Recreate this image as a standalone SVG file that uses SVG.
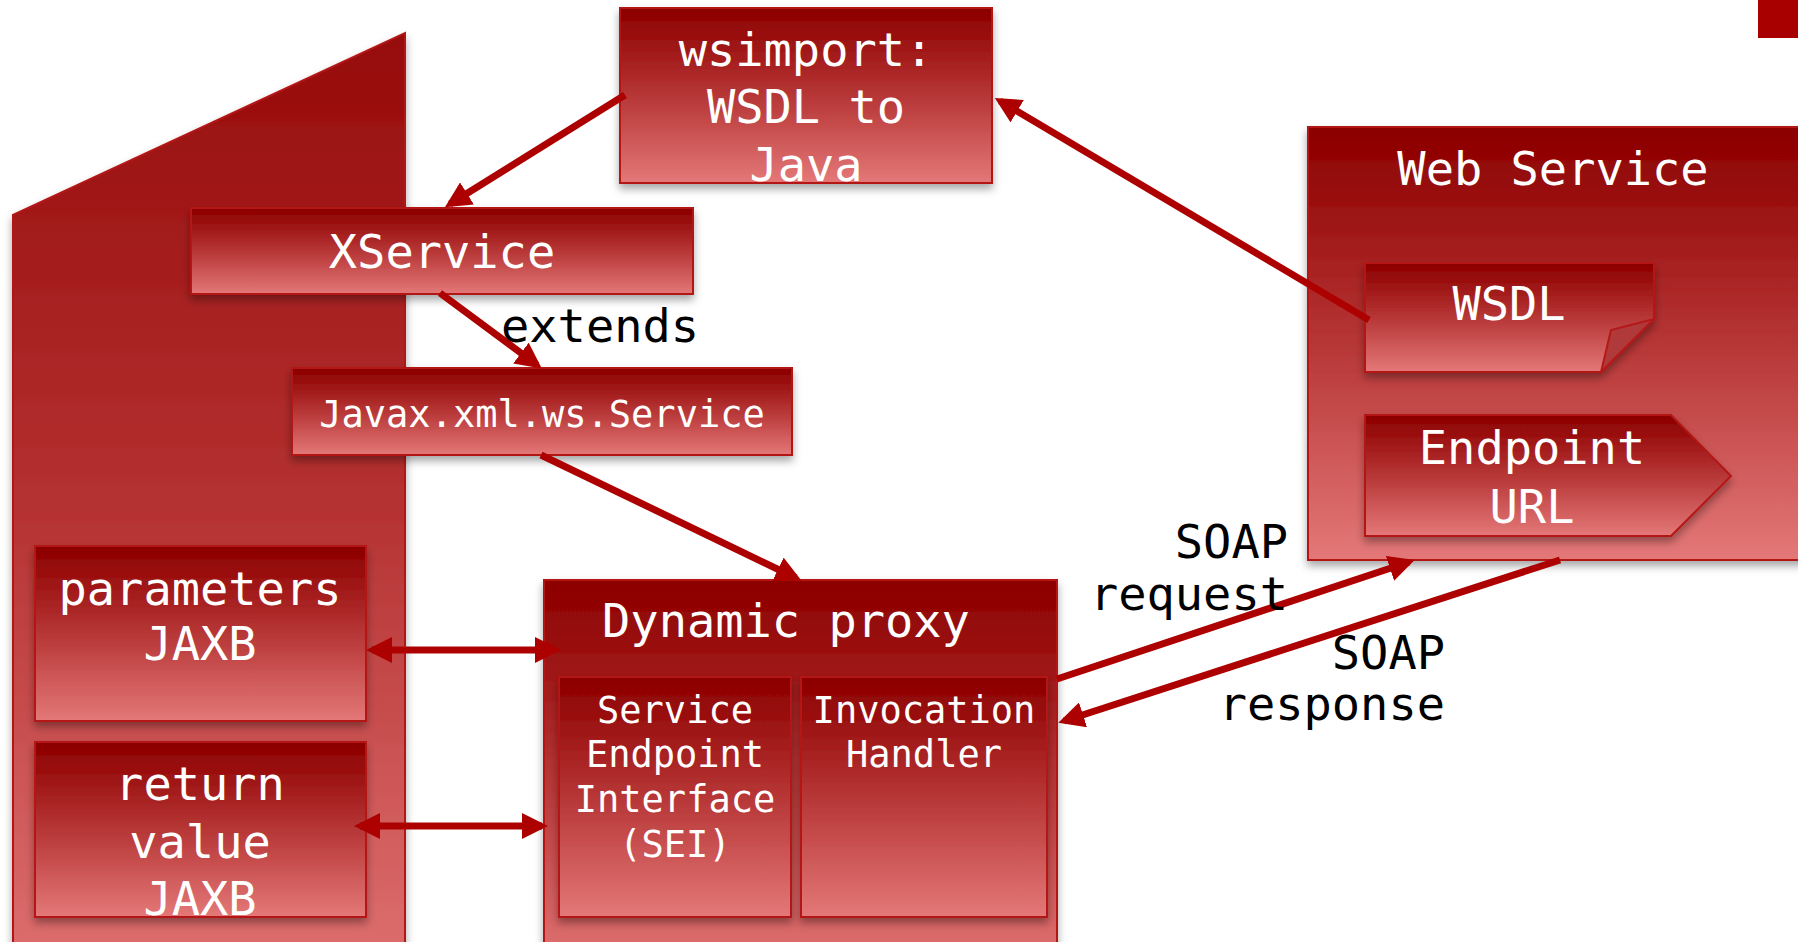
<svg xmlns="http://www.w3.org/2000/svg" width="1798" height="942" viewBox="0 0 1798 942">
<defs>
<linearGradient id="g" x1="0" y1="0" x2="0" y2="1">
<stop offset="0" stop-color="#8c0000"/>
<stop offset="0.12" stop-color="#960a0a"/>
<stop offset="0.55" stop-color="#bb3c3c"/>
<stop offset="1" stop-color="#e47878"/>
</linearGradient>
<linearGradient id="gs" x1="0" y1="0" x2="0" y2="1">
<stop offset="0" stop-color="#960a0a"/>
<stop offset="0.5" stop-color="#b53232"/>
<stop offset="1" stop-color="#e07272"/>
</linearGradient>
<filter id="sh" x="-10%" y="-10%" width="120%" height="130%">
<feDropShadow dx="0" dy="5" stdDeviation="4" flood-color="#000" flood-opacity="0.35"/>
</filter>
<marker id="ah" viewBox="0 0 26 26" refX="20" refY="13" markerWidth="26" markerHeight="26" markerUnits="userSpaceOnUse" orient="auto-start-reverse">
<path d="M0,0 L26,13 L0,26 z" fill="#ad0000"/>
</marker>
<style>
.box{fill:url(#g);stroke:#b41818;stroke-width:2;filter:url(#sh)}
.hl{fill:none;stroke:#ffffff;stroke-opacity:0.18;stroke-width:3}
.t{font-family:"DejaVu Sans Mono","Liberation Mono",monospace;fill:#ffffff;text-anchor:middle;font-size:47px}
.ts{font-family:"DejaVu Sans Mono","Liberation Mono",monospace;fill:#ffffff;text-anchor:middle;font-size:37px}
.lb{font-family:"DejaVu Sans Mono","Liberation Mono",monospace;fill:#000000;font-size:47px}
.c{stroke:#ad0000;stroke-width:7;fill:none}
</style>
</defs>
<rect width="1798" height="942" fill="#ffffff"/>
<rect x="1758" y="0" width="40" height="38" fill="#a80000"/>

<g id="client">
<polygon class="box" points="13,215 405,33 405,990 13,990" style="fill:url(#gs)"/>
</g>

<g id="wsimport">
<rect class="box" x="620" y="8" width="372" height="175"/>
<text class="t" x="806" y="66">wsimport:</text>
<text class="t" x="806" y="123">WSDL to</text>
<text class="t" x="806" y="181">Java</text>
</g>

<g id="xservice">
<rect class="box" x="191" y="208" width="502" height="86"/>
<text class="t" x="442" y="268">XService</text>
</g>

<g id="javaxservice">
<rect class="box" x="292" y="368" width="500" height="87"/>
<text class="ts" x="542" y="427">Javax.xml.ws.Service</text>
</g>

<g id="webservice">
<rect class="box" x="1308" y="127" width="500" height="433"/>
<text class="t" x="1553" y="185">Web Service</text>
</g>

<g id="wsdl">
<path class="box" d="M1365,263 L1654,263 L1654,319 L1601,372 L1365,372 z"/>
<path d="M1654,319 L1611,330 L1601,372 z" fill="#b03a3a" stroke="#b41818" stroke-width="2"/>
<text class="t" x="1509" y="320">WSDL</text>
</g>

<g id="endpoint">
<path class="box" d="M1365,415 L1671,415 L1731,476 L1671,536 L1365,536 z"/>
<text class="t" x="1532" y="464">Endpoint</text>
<text class="t" x="1532" y="523">URL</text>
</g>

<g id="parameters">
<rect class="box" x="35" y="546" width="331" height="175"/>
<text class="t" x="200" y="605">parameters</text>
<text class="t" x="200" y="660">JAXB</text>
</g>

<g id="returnvalue">
<rect class="box" x="35" y="742" width="331" height="175"/>
<text class="t" x="200" y="800">return</text>
<text class="t" x="200" y="858">value</text>
<text class="t" x="200" y="915">JAXB</text>
</g>

<g id="dynamicproxy">
<rect class="box" x="544" y="580" width="513" height="400"/>
<text class="t" x="786" y="637">Dynamic proxy</text>
</g>

<g id="sei">
<rect class="box" x="559" y="677" width="232" height="240"/>
<text class="ts" x="675" y="723">Service</text>
<text class="ts" x="675" y="767">Endpoint</text>
<text class="ts" x="675" y="812">Interface</text>
<text class="ts" x="675" y="857">(SEI)</text>
</g>

<g id="invocationhandler">
<rect class="box" x="801" y="677" width="246" height="240"/>
<text class="ts" x="924" y="723">Invocation</text>
<text class="ts" x="924" y="767">Handler</text>
</g>

<g id="connectors">
<line class="c" x1="625" y1="95" x2="450" y2="204" marker-end="url(#ah)"/>
<line class="c" x1="440" y1="293" x2="537" y2="365" marker-end="url(#ah)"/>
<line class="c" x1="541" y1="455" x2="796" y2="578" marker-end="url(#ah)"/>
<line class="c" x1="1369" y1="320" x2="1000" y2="101" marker-end="url(#ah)"/>
<line class="c" x1="372" y1="650" x2="555" y2="650" marker-start="url(#ah)" marker-end="url(#ah)"/>
<line class="c" x1="360" y1="826" x2="542" y2="826" marker-start="url(#ah)" marker-end="url(#ah)"/>
<line class="c" x1="1057" y1="679" x2="1409" y2="562" marker-end="url(#ah)"/>
<line class="c" x1="1560" y1="560" x2="1064" y2="721" marker-end="url(#ah)"/>
<text class="lb" x="501" y="342">extends</text>
<text class="lb" x="1288" y="558" text-anchor="end">SOAP</text>
<text class="lb" x="1288" y="610" text-anchor="end">request</text>
<text class="lb" x="1445" y="669" text-anchor="end">SOAP</text>
<text class="lb" x="1445" y="720" text-anchor="end">response</text>
</g>
</svg>
